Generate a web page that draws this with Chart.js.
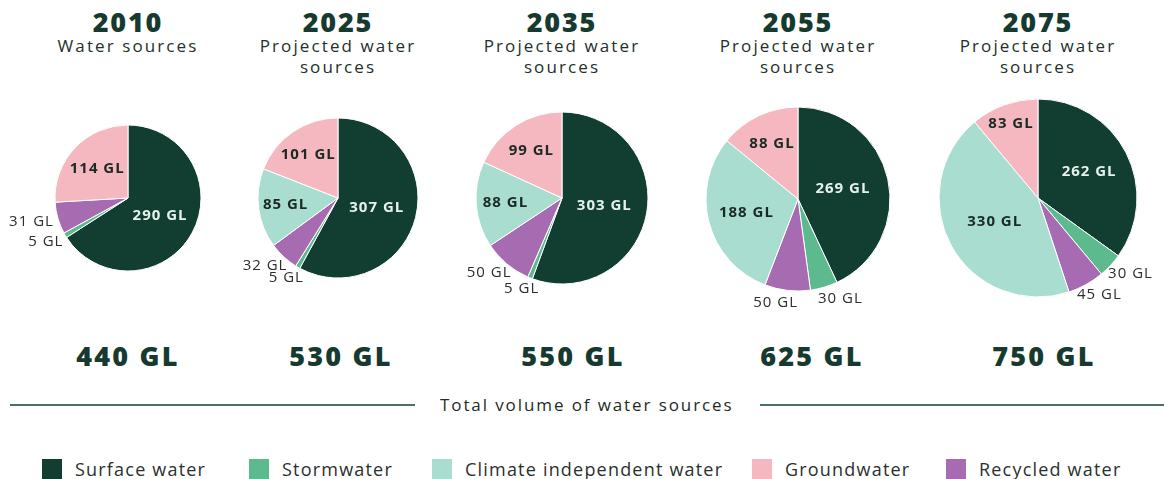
<!DOCTYPE html>
<html>
<head>
<meta charset="utf-8">
<script src="https://cdn.jsdelivr.net/npm/chart.js@4.4.1/dist/chart.umd.min.js"></script>
<style>
  body { margin: 0; background: #fff; }
  #stage { position: relative; width: 1164px; height: 479px; overflow: hidden; font-family: "Open Sans", sans-serif; color: #1f2b26; }
  .abs { position: absolute; }
  .year { font-weight: 800; font-size: 27px; color: #173a30; text-align: center; width: 240px; line-height: 30px; letter-spacing: 1.8px; }
  .sub { font-size: 17px; text-align: center; width: 260px; line-height: 21px; white-space: pre-line; letter-spacing: 2.1px; color: #23302b; }
  .total { font-weight: 800; font-size: 27px; color: #173a30; text-align: center; width: 200px; letter-spacing: 2.2px; }
  .rule { height: 2px; background: #4a7262; }
  .caption { font-size: 17px; letter-spacing: 1.9px; color: #1f2b26; line-height: 22px; }
  .swatch { width: 20px; height: 20px; }
  .legtext { font-size: 18px; letter-spacing: 1.2px; color: #2b302e; line-height: 20px; }
  canvas { position: absolute; }
</style>
</head>
<body>
<div id="stage"></div>
<script>
// Water sources by year, in GL
const years = ['2010', '2025', '2035', '2055', '2075'];
const subtitles = ['Water sources', 'Projected water\nsources', 'Projected water\nsources', 'Projected water\nsources', 'Projected water\nsources'];
const totals = [440, 530, 550, 625, 750];

// slice order, clockwise from 12 o'clock
const sources = ['Surface water', 'Stormwater', 'Recycled water', 'Climate independent water', 'Groundwater'];
const surfaceWater = [290, 307, 303, 269, 262];
const stormwater = [5, 5, 5, 30, 30];
const recycledWater = [31, 32, 50, 50, 45];
const climateIndependent = [0, 85, 88, 188, 330];
const groundwater = [114, 101, 99, 88, 83];

const legendOrder = ['Surface water', 'Stormwater', 'Climate independent water', 'Groundwater', 'Recycled water'];

const colors = {
    'Surface water': '#123e32',
    'Stormwater': '#5dba8f',
    'Recycled water': '#a66bb0',
    'Climate independent water': '#a8ddd0',
    'Groundwater': '#f5b7c0'
};

// page layout
const pieLayout = [
    { cx: 128, cy: 198, r: 73 },
    { cx: 338, cy: 198, r: 80 },
    { cx: 562, cy: 198, r: 86 },
    { cx: 798, cy: 199, r: 92 },
    { cx: 1038, cy: 198, r: 99 }
];
const totalX = [128, 341, 573, 812, 1044];
const legendX = [42, 249, 432, 752, 946];
const CANVAS_W = 250, CANVAS_H = 240;

const stage = document.getElementById('stage');

function addEl(cls, text, style) {
    const el = document.createElement('div');
    el.className = 'abs ' + cls;
    if (text) el.textContent = text;
    Object.assign(el.style, style);
    stage.appendChild(el);
    return el;
}

// labels inside big slices, outside for thin ones
const sliceLabels = {
    id: 'sliceLabels',
    afterDatasetsDraw(chart) {
        const ctx = chart.ctx;
        const meta = chart.getDatasetMeta(0);
        const values = chart.data.datasets[0].data;
        const outside = [];
        ctx.save();
        ctx.letterSpacing = '1px';
        ctx.textAlign = 'center';
        ctx.textBaseline = 'middle';
        meta.data.forEach((arc, i) => {
            const v = values[i];
            if (!v) return;
            const p = arc.getProps(['x', 'y', 'startAngle', 'endAngle', 'outerRadius'], true);
            const mid = (p.startAngle + p.endAngle) / 2;
            const dx = Math.cos(mid), dy = Math.sin(mid);
            const text = v + ' GL';
            const deg = (p.endAngle - p.startAngle) * 180 / Math.PI;
            if (deg < 35) {
                // beside the rim, in the slice's direction
                ctx.font = '500 15px "Open Sans"';
                const w = ctx.measureText(text).width;
                const d = p.outerRadius + 5;
                outside.push({ text, w, x: p.x + dx * d + dx * w / 2, y: p.y + dy * d + dy * 7 });
            } else {
                const f = deg > 140 ? 0.5 : deg > 90 ? 0.58 : deg > 45 ? 0.66 : 0.8;
                ctx.font = '700 15px "Open Sans"';
                ctx.fillStyle = i === 0 ? '#e6f1ec' : '#1b2a24';
                ctx.fillText(text, p.x + dx * p.outerRadius * f, p.y + dy * p.outerRadius * f);
            }
        });

        // spread side-by-side outside labels apart
        const minGap = 20;
        for (let a = 0; a < outside.length; a++) {
            for (let b = a + 1; b < outside.length; b++) {
                const A = outside[a], B = outside[b];
                if (Math.abs(A.y - B.y) > 10) continue;
                const [l, r] = A.x < B.x ? [A, B] : [B, A];
                const gap = (r.x - r.w / 2) - (l.x + l.w / 2);
                if (gap < minGap) {
                    const push = (minGap - gap) / 2;
                    l.x -= push;
                    r.x += push;
                }
            }
        }
        ctx.font = '500 15px "Open Sans"';
        ctx.fillStyle = '#2b2f2d';
        outside.forEach(o => ctx.fillText(o.text, o.x, o.y));
        ctx.restore();
    }
};

years.forEach((year, k) => {
    const L = pieLayout[k];
    addEl('year', year, { left: (L.cx - 120) + 'px', top: '7px' });
    addEl('sub', subtitles[k], { left: (L.cx - 130) + 'px', top: '35px' });
    addEl('total', totals[k] + ' GL', { left: (totalX[k] - 100) + 'px', top: '337px' });

    const canvas = document.createElement('canvas');
    canvas.width = CANVAS_W;
    canvas.height = CANVAS_H;
    canvas.style.left = (L.cx - CANVAS_W / 2) + 'px';
    canvas.style.top = (L.cy - CANVAS_H / 2) + 'px';
    stage.appendChild(canvas);

    const values = [surfaceWater[k], stormwater[k], recycledWater[k], climateIndependent[k], groundwater[k]];

    new Chart(canvas.getContext('2d'), {
        type: 'pie',
        data: {
            labels: sources,
            datasets: [{
                data: values,
                backgroundColor: sources.map(s => colors[s]),
                borderColor: '#ffffff',
                borderWidth: 1
            }]
        },
        options: {
            responsive: false,
            animation: false,
            radius: L.r,
            layout: { padding: 0 },
            plugins: {
                legend: { display: false },
                tooltip: { enabled: true }
            }
        },
        plugins: [sliceLabels]
    });
});

// divider with caption
addEl('rule', '', { left: '10px', top: '404px', width: '405px' });
addEl('rule', '', { left: '760px', top: '404px', width: '404px' });
addEl('caption', 'Total volume of water sources', { left: '440px', top: '394px' });

// legend
legendOrder.forEach((name, i) => {
    addEl('swatch', '', { left: legendX[i] + 'px', top: '459px', background: colors[name] });
    addEl('legtext', name, { left: (legendX[i] + 33) + 'px', top: '459px' });
});
</script>
</body>
</html>
